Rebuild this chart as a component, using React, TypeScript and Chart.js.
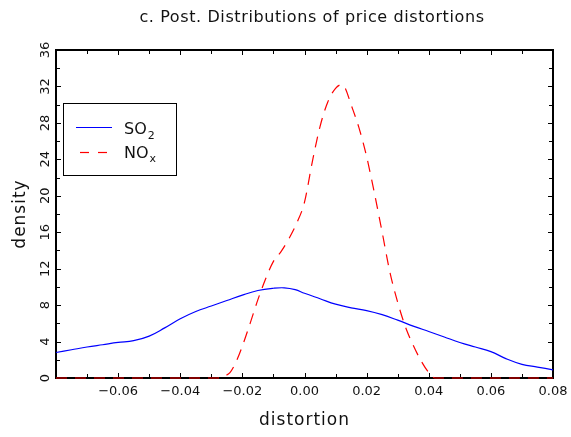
import React, { useEffect, useRef } from "react";
import { Chart, registerables } from "chart.js";

Chart.register(...registerables);

// ---- data ----
const so2X = [-0.08, -0.075, -0.07, -0.065, -0.06, -0.055, -0.05, -0.045, -0.04, -0.035, -0.03, -0.025, -0.02, -0.015, -0.01, -0.0065, -0.003, 0, 0.005, 0.01, 0.015, 0.02, 0.025, 0.03, 0.035, 0.04, 0.045, 0.05, 0.055, 0.06, 0.065, 0.07, 0.075, 0.08];
const so2Y = [2.8, 3.1, 3.4, 3.65, 3.9, 4.1, 4.6, 5.5, 6.5, 7.3, 7.9, 8.5, 9.1, 9.6, 9.85, 9.9, 9.7, 9.3, 8.7, 8.1, 7.7, 7.4, 6.95, 6.35, 5.7, 5.1, 4.5, 3.9, 3.4, 2.9, 2.1, 1.5, 1.2, 0.9];
const noxX = [-0.08, -0.028, -0.026, -0.024, -0.022, -0.02, -0.0175, -0.015, -0.0125, -0.01, -0.0075, -0.005, -0.0025, 0, 0.0025, 0.005, 0.0075, 0.01, 0.012, 0.013, 0.015, 0.0175, 0.02, 0.0225, 0.025, 0.0275, 0.03, 0.0325, 0.035, 0.0375, 0.04, 0.042, 0.08];
const noxY = [0, 0, 0.2, 0.6, 1.8, 3.5, 6.0, 8.6, 10.9, 12.8, 13.9, 15.3, 17.0, 19.3, 23.7, 27.6, 30.3, 31.8, 32.2, 31.9, 30.0, 27.5, 24.3, 20.3, 16.0, 11.6, 8.3, 5.6, 3.6, 1.9, 0.6, 0, 0];

const xTickValues = [-0.06, -0.04, -0.02, 0, 0.02, 0.04, 0.06, 0.08];
const yTickValues = [0, 4, 8, 12, 16, 20, 24, 28, 32, 36];
const xMin = -0.08;
const xMax = 0.08;
const yMin = 0;
const yMax = 36;

const TITLE = "c. Post. Distributions of price distortions";
const X_TITLE = "distortion";
const Y_TITLE = "density";
const SO2_LABEL = ["SO", "2"];
const NOX_LABEL = ["NO", "x"];

const FONT = "'DejaVu Sans', sans-serif";

function fmtX(v: number): string {
  const s = Math.abs(v).toFixed(2);
  return v < -1e-9 ? "\u2212" + s : s;
}

export default function App() {
  const ref = useRef<HTMLCanvasElement>(null);

  useEffect(() => {
    document.body.style.margin = "0";
    const canvas = ref.current;
    if (!canvas) return;

    const framePlugin = {
      id: "idlFrame",
      beforeDatasetsDraw(chart: any) {
        const { ctx, chartArea: a, scales } = chart;
        const xs = scales.x;
        const ys = scales.y;
        ctx.save();
        ctx.strokeStyle = "#000";
        ctx.lineWidth = 2;
        ctx.strokeRect(a.left, a.top, a.right - a.left, a.bottom - a.top);
        ctx.lineWidth = 1;
        ctx.beginPath();
        for (let i = -8; i <= 8; i++) {
          const px = Math.round(xs.getPixelForValue(i / 100)) + 0.5;
          const len = i % 2 === 0 ? 5 : 4;
          ctx.moveTo(px, a.bottom);
          ctx.lineTo(px, a.bottom - len);
          ctx.moveTo(px, a.top);
          ctx.lineTo(px, a.top + len);
        }
        for (let v = 0; v <= 36; v += 2) {
          const py = Math.round(ys.getPixelForValue(v)) + 0.5;
          const len = v % 4 === 0 ? 5 : 4;
          ctx.moveTo(a.left, py);
          ctx.lineTo(a.left + len, py);
          ctx.moveTo(a.right, py);
          ctx.lineTo(a.right - len, py);
        }
        ctx.stroke();
        ctx.restore();
      },
      afterDraw(chart: any) {
        const { ctx, chartArea: a, scales } = chart;
        const xs = scales.x;
        const ys = scales.y;
        ctx.save();
        ctx.fillStyle = "#111";
        // title
        (ctx as any).letterSpacing = "0.6px";
        ctx.font = `16px ${FONT}`;
        ctx.textAlign = "center";
        ctx.textBaseline = "middle";
        ctx.fillText(TITLE, 312, 18);
        // x tick labels
        (ctx as any).letterSpacing = "0px";
        ctx.font = `13px ${FONT}`;
        ctx.textBaseline = "middle";
        for (const v of xTickValues) {
          ctx.fillText(fmtX(v), xs.getPixelForValue(v), a.bottom + 14);
        }
        // y tick labels (rotated)
        for (const v of yTickValues) {
          ctx.save();
          ctx.translate(a.left - 10, ys.getPixelForValue(v));
          ctx.rotate(-Math.PI / 2);
          ctx.fillText(String(v), 0, 0);
          ctx.restore();
        }
        // axis titles
        (ctx as any).letterSpacing = "1px";
        ctx.font = `17px ${FONT}`;
        ctx.textBaseline = "alphabetic";
        ctx.fillText(X_TITLE, (a.left + a.right) / 2, 425);
        ctx.save();
        ctx.translate(21, (a.top + a.bottom) / 2);
        ctx.rotate(-Math.PI / 2);
        ctx.textBaseline = "middle";
        ctx.fillText(Y_TITLE, 0, 0);
        ctx.restore();

        // legend
        (ctx as any).letterSpacing = "0px";
        ctx.strokeStyle = "#000";
        ctx.lineWidth = 1;
        ctx.strokeRect(63.5, 103.5, 113, 72);
        ctx.lineWidth = 1.2;
        ctx.strokeStyle = "#0000ff";
        ctx.beginPath();
        ctx.moveTo(76, 127.5);
        ctx.lineTo(112, 127.5);
        ctx.stroke();
        ctx.strokeStyle = "#ff0000";
        ctx.setLineDash([9, 9]);
        ctx.beginPath();
        ctx.moveTo(80, 152.5);
        ctx.lineTo(112, 152.5);
        ctx.stroke();
        ctx.setLineDash([]);
        ctx.textAlign = "left";
        ctx.textBaseline = "alphabetic";
        ctx.fillStyle = "#111";
        ctx.font = `16px ${FONT}`;
        ctx.fillText(SO2_LABEL[0], 124, 134);
        let w = ctx.measureText(SO2_LABEL[0]).width;
        ctx.font = `11px ${FONT}`;
        ctx.fillText(SO2_LABEL[1], 124 + w + 1, 139);
        ctx.font = `16px ${FONT}`;
        ctx.fillText(NOX_LABEL[0], 124, 158);
        w = ctx.measureText(NOX_LABEL[0]).width;
        ctx.font = `11px ${FONT}`;
        ctx.fillText(NOX_LABEL[1], 124 + w + 1, 162);
        ctx.restore();
      },
    };

    const chart = new Chart(canvas, {
      type: "line",
      data: {
        datasets: [
          {
            label: "SO2",
            data: so2X.map((x, i) => ({ x, y: so2Y[i] })),
            borderColor: "#0000ff",
            borderWidth: 1.2,
            pointRadius: 0,
            tension: 0.4,
            fill: false,
            clip: 4,
          },
          {
            label: "NOx",
            data: noxX.map((x, i) => ({ x, y: noxY[i] })),
            borderColor: "#ff0000",
            borderWidth: 1.2,
            borderDash: [11, 8],
            pointRadius: 0,
            cubicInterpolationMode: "monotone",
            fill: false,
            clip: 4,
          },
        ],
      },
      options: {
        responsive: false,
        animation: false,
        layout: { padding: { left: 56, top: 50, right: 18, bottom: 59 } },
        plugins: { legend: { display: false }, title: { display: false }, tooltip: { enabled: false } },
        scales: {
          x: { type: "linear", min: xMin, max: xMax, display: false },
          y: { type: "linear", min: yMin, max: yMax, display: false },
        },
      },
      plugins: [framePlugin],
    } as any);

    return () => chart.destroy();
  }, []);

  return <canvas ref={ref} width={571} height={437} style={{ display: "block" }} />;
}
